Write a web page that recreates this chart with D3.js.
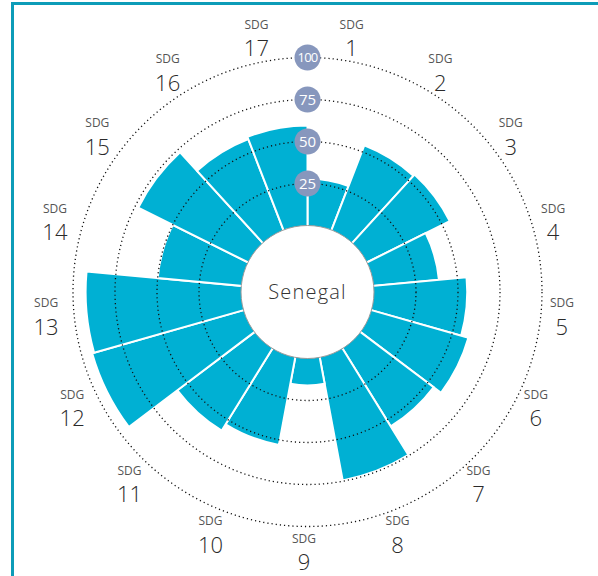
<!DOCTYPE html>
<html>
<head>
<meta charset="utf-8">
<script src="https://cdn.jsdelivr.net/npm/d3@7"></script>
<style>
  html, body { margin: 0; padding: 0; background: #fff; }
  svg { display: block; }
</style>
</head>
<body>
<svg id="chart" width="598" height="576"></svg>
<script>
// SDG index scores for Senegal (0-100), goal 1 at the top, clockwise
const goals = ["1","2","3","4","5","6","7","8","9","10","11","12","13","14","15","16","17"];
const scores = [28, 54, 55, 39, 55.5, 60, 54.5, 74.5, 16, 53, 57.5, 93.7, 92.5, 50, 73, 58, 59.5];
const gridTicks = [25, 50, 75, 100];
const country = "Senegal";

const svg = d3.select("#chart");
const W = 598, H = 576;
const cx = 307.5, cy = 292;
const innerR = 66.5, outerR = 234.5;
const FONT = "'Open Sans', 'Noto Sans', sans-serif";

// frame
svg.append("rect")
  .attr("x", 12.5).attr("y", 3.5)
  .attr("width", W + 20).attr("height", H + 20)
  .attr("fill", "none")
  .attr("stroke", "#0d9cb8")
  .attr("stroke-width", 3);

const g = svg.append("g").attr("transform", `translate(${cx},${cy})`);

const angle = d3.scaleBand()
  .domain(goals)
  .range([0, 2 * Math.PI])
  .padding(0);

const r = d3.scaleLinear().domain([0, 100]).range([innerR, outerR]);

const arc = d3.arc()
  .innerRadius(innerR - 2)
  .outerRadius(d => r(d.v))
  .startAngle(d => angle(d.k))
  .endAngle(d => angle(d.k) + angle.bandwidth());

const data = goals.map((k, i) => ({ k, v: scores[i] }));

g.append("g").selectAll("path")
  .data(data)
  .join("path")
  .attr("d", arc)
  .attr("fill", "#00b0d3")
  .attr("stroke", "#fff")
  .attr("stroke-width", 2)
  .attr("stroke-linejoin", "miter");

// dotted reference rings
g.append("g").selectAll("circle")
  .data(gridTicks)
  .join("circle")
  .attr("r", d => r(d))
  .attr("fill", "none")
  .attr("stroke", "#111")
  .attr("stroke-width", 1.3)
  .attr("stroke-dasharray", "1.2,3");

// centre disc with the country name
g.append("circle")
  .attr("r", innerR)
  .attr("fill", "#fff")
  .attr("stroke", "#9a9a9a")
  .attr("stroke-width", 1);

g.append("text")
  .attr("text-anchor", "middle")
  .attr("dy", "0.35em")
  .attr("font-family", FONT)
  .attr("font-weight", 300)
  .attr("font-size", 20)
  .attr("letter-spacing", 1.2)
  .attr("fill", "#333")
  .text(country);

// ring value badges along the top axis
const badges = g.append("g").selectAll("g")
  .data(gridTicks)
  .join("g")
  .attr("transform", d => `translate(0,${-r(d)})`);

badges.append("circle")
  .attr("r", 13)
  .attr("fill", "#8797bd");

badges.append("text")
  .attr("text-anchor", "middle")
  .attr("dy", "0.36em")
  .attr("font-family", FONT)
  .attr("font-size", d => d === 100 ? 13 : 15)
  .attr("letter-spacing", d => d === 100 ? -0.8 : 0)
  .attr("fill", "#fff")
  .text(d => d);

// goal labels on a ring slightly left of the chart centre
const labelR = 259;
const lx = -3.5, ly = -1;
const labels = g.append("g").selectAll("text")
  .data(goals)
  .join("text")
  .attr("text-anchor", "middle")
  .attr("font-family", FONT)
  .attr("transform", d => {
    const a = angle(d) + angle.bandwidth() / 2;
    return `translate(${lx + labelR * Math.sin(a)},${ly - labelR * Math.cos(a)})`;
  });

labels.append("tspan")
  .attr("x", 0)
  .attr("y", -7.5)
  .attr("font-size", 12)
  .attr("fill", "#555")
  .text("SDG");

labels.append("tspan")
  .attr("x", 0)
  .attr("y", 20)
  .attr("font-size", 22)
  .attr("font-weight", 300)
  .attr("fill", "#2a2a2a")
  .text(d => d);
</script>
</body>
</html>
